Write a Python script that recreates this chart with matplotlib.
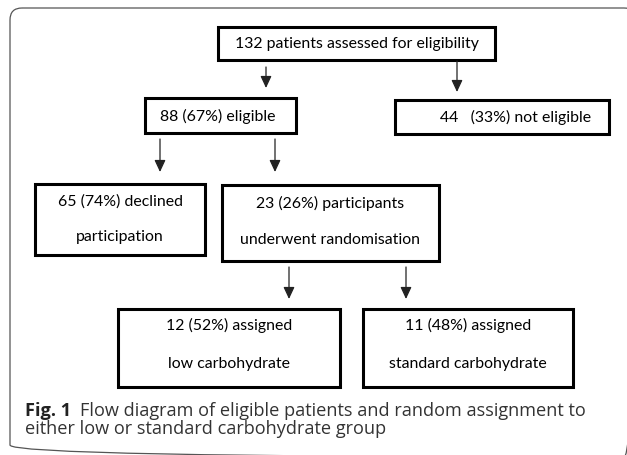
import matplotlib
matplotlib.use("Agg")
import matplotlib.pyplot as plt
from matplotlib.patches import Rectangle, FancyBboxPatch

# flow numbers
counts = [132, 88, 44, 65, 23, 12, 11]
percents = [None, 67, 33, 74, 26, 52, 48]
labels = [
    ["132 patients assessed for eligibility"],
    ["88 (67%) eligible"],
    ["44   (33%) not eligible"],
    ["65 (74%) declined", "participation"],
    ["23 (26%) participants", "underwent randomisation"],
    ["12 (52%) assigned", "low carbohydrate"],
    ["11 (48%) assigned", "standard carbohydrate"],
]
caption_bold = "Fig. 1"
caption_text = "Flow diagram of eligible patients and random assignment to"
caption_text2 = "either low or standard carbohydrate group"

# layout in pixels (x0, y0, x1, y1), text dx, text line centres y
boxes = [
    (218, 27, 495, 60, 0, [44]),
    (145, 98, 296, 133, -3, [116]),
    (395, 100, 609, 134, 14, [117]),
    (35, 184, 205, 255, 0, [202, 237]),
    (222, 185, 439, 261, 0, [203, 240]),
    (118, 309, 340, 387, 0, [325, 364]),
    (363, 309, 573, 387, 0, [325, 364]),
]
# arrows: x, y_start, y_tip
arrows = [
    (266, 67, 88),
    (457, 61, 92),
    (160, 139, 172),
    (275, 139, 172),
    (289, 267, 299),
    (406, 267, 299),
]

W, H = 627, 455
fig = plt.figure(figsize=(W / 100, H / 100), dpi=100)
ax = fig.add_axes([0, 0, 1, 1])
ax.set_xlim(0, W)
ax.set_ylim(H, 0)
ax.axis("off")

# outer rounded frame
frame = FancyBboxPatch((10, 8), 626, 449, boxstyle="round,pad=0,rounding_size=12",
                       fill=False, ec="#555555", lw=0.9)
ax.add_patch(frame)

box_font = "Lato"
for (x0, y0, x1, y1, dx, ys), lines in zip(boxes, labels):
    ax.add_patch(Rectangle((x0, y0), x1 - x0, y1 - y0, fill=False, ec="black", lw=2.2))
    for ty, line in zip(ys, lines):
        ax.text((x0 + x1) / 2 + dx, ty, line, ha="center", va="center",
                fontsize=11.4, family=box_font, color="black")

for x, ys, yt in arrows:
    ax.annotate("", xy=(x, yt), xytext=(x, ys),
                arrowprops=dict(arrowstyle="-|>,head_length=0.6,head_width=0.28",
                                mutation_scale=12, lw=0.9, color="#222222",
                                shrinkA=0, shrinkB=0))

# caption
cap_font = "Open Sans"
cap_size = 13.1
t = ax.text(25, 416, caption_bold, ha="left", va="baseline", fontsize=cap_size,
            family=cap_font, weight="bold", color="#222222")
fig.canvas.draw()
bb = t.get_window_extent()
x_after = ax.transData.inverted().transform((bb.x1 + 9, 0))[0]
ax.text(x_after, 416, caption_text, ha="left", va="baseline", fontsize=cap_size,
        family=cap_font, color="#333333")
ax.text(25, 434, caption_text2, ha="left", va="baseline", fontsize=cap_size,
        family=cap_font, color="#333333")

fig.savefig("out.png", dpi=100)
